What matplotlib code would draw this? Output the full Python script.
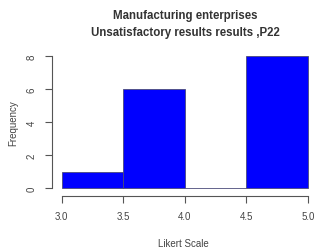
import matplotlib
matplotlib.use("Agg")
import matplotlib.pyplot as plt

bin_edges = [3.0, 3.5, 4.0, 4.5, 5.0]
counts = [1, 6, 0, 8]
x_ticks = [3.0, 3.5, 4.0, 4.5, 5.0]
y_ticks = [0, 2, 4, 6, 8]

plt.rcParams['font.family'] = ['Liberation Sans', 'DejaVu Sans']

W, H = 315, 251
fig = plt.figure(figsize=(W/100, H/100), dpi=100)
left, right = 52, 315
top, bottom = 51.7, 194.3
ax = fig.add_axes([left/W, 1 - bottom/H, (right-left)/W, (bottom-top)/H])

lefts = bin_edges[:-1]
widths = [b - a for a, b in zip(bin_edges[:-1], bin_edges[1:])]
ax.bar(lefts, counts, width=widths, align='edge', color='#0000ff',
       edgecolor='#4a4a7a', linewidth=0.6)

ax.set_xlim(2.92, 2.92 + (right-left)/123)
ax.set_ylim(-0.32, 8.32)
for s in ['top', 'right']:
    ax.spines[s].set_visible(False)
ax.spines['left'].set_bounds(0, 8)
ax.spines['bottom'].set_bounds(3, 5)
ax.spines['bottom'].set_position(('outward', 2))
for s in ['left', 'bottom']:
    ax.spines[s].set_color('#555555')
    ax.spines[s].set_linewidth(0.8)

ax.set_xticks(x_ticks)
ax.set_xticklabels([f"{v:.1f}" for v in x_ticks])
ax.set_yticks(y_ticks)
ax.set_yticklabels([str(v) for v in y_ticks], rotation=90, va='center')
ax.tick_params(axis='both', colors='#555555', labelcolor='#444444',
               labelsize=7, length=5, width=0.8)
ax.tick_params(axis='x', pad=6)
ax.tick_params(axis='y', pad=6)

ax.set_xlabel("Likert Scale", fontsize=7, color='#444444', labelpad=12)
ax.set_ylabel("Frequency", fontsize=7, color='#444444', labelpad=6)

fig.text(0.588, 1 - 16/H, "Manufacturing enterprises", ha='center', va='center',
         fontsize=8.3, fontweight='bold', color='#333333')
fig.text(0.588, 1 - 33/H, "Unsatisfactory results results ,P22", ha='center', va='center',
         fontsize=8.3, fontweight='bold', color='#333333')

fig.savefig("out.png", dpi=100)
